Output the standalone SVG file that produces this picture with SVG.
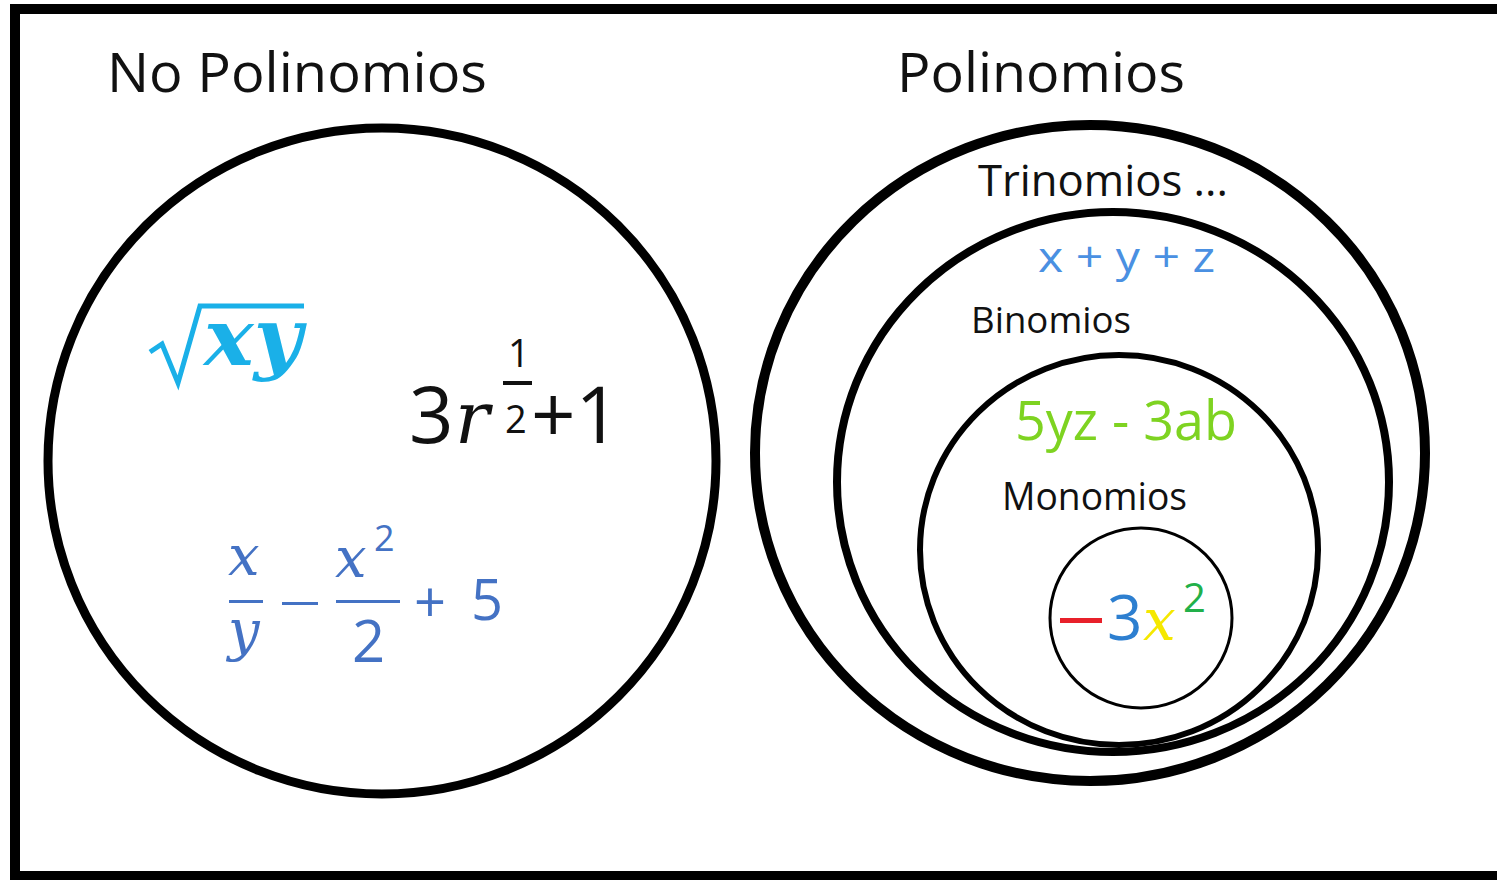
<svg xmlns="http://www.w3.org/2000/svg" width="1497" height="880" viewBox="0 0 1497 880">
<style>
.c{fill:none;stroke:#000}
.lbl{font-family:"Open Sans","Noto Sans",sans-serif;fill:#111}
.m{font-family:"DejaVu Serif","Liberation Serif",serif}
.s{font-family:"Open Sans","Noto Sans",sans-serif}
</style>
<rect width="1497" height="880" fill="#fff"/>
<g id="frame"><rect x="15" y="9" width="1500" height="867" class="c" stroke-width="10"/></g>
<g id="no-polinomios">
<text class="lbl" x="107" y="92" font-size="55" textLength="380" lengthAdjust="spacingAndGlyphs">No Polinomios</text>
<ellipse cx="382" cy="461" rx="334" ry="333" class="c" stroke-width="9"/>
<g id="sqrt" fill="#1ab0e8">
<path d="M150,352 L162,344 L178,383 L200,306 L304,306" fill="none" stroke="#1ab0e8" stroke-width="5" stroke-linejoin="miter"/>
<text class="m" x="204" y="365" font-size="78" font-weight="bold" font-style="italic" textLength="98" lengthAdjust="spacingAndGlyphs">xy</text>
</g>
<g id="expr3r" fill="#111">
<text class="s" x="409" y="443" font-size="78">3</text>
<text class="m" x="455" y="443" font-size="72" font-style="italic">r</text>
<text class="s" x="508" y="367" font-size="38">1</text>
<rect x="503" y="381" width="29" height="4"/>
<text class="s" x="505" y="433" font-size="38">2</text>
<text class="s" x="531" y="443" font-size="78">+1</text>
</g>
<g id="fracexpr" fill="#4472c4">
<text class="m" x="228" y="575" font-size="56" font-style="italic">x</text>
<rect x="229" y="600" width="34" height="3"/>
<text class="m" x="228" y="650" font-size="56" font-style="italic">y</text>
<rect x="282" y="602" width="36" height="3"/>
<text class="m" x="335" y="577" font-size="56" font-style="italic">x</text>
<text class="s" x="374" y="551" font-size="36">2</text>
<rect x="336" y="600" width="64" height="3"/>
<text class="s" x="352" y="662" font-size="58">2</text>
<text class="s" x="414" y="622" font-size="56">+</text>
<text class="s" x="471" y="620" font-size="56">5</text>
</g>
</g>
<g id="polinomios">
<text class="lbl" x="897" y="92" font-size="55" textLength="288" lengthAdjust="spacingAndGlyphs">Polinomios</text>
<ellipse cx="1090" cy="453" rx="335" ry="328" class="c" stroke-width="10"/>
</g>
<g id="trinomios">
<text class="lbl" x="978" y="196" font-size="43" textLength="250" lengthAdjust="spacingAndGlyphs">Trinomios ...</text>
<ellipse cx="1113" cy="482" rx="276" ry="270" class="c" stroke-width="8"/>
<text class="s" x="1038" y="272" font-size="42" fill="#4a90e2" textLength="177" lengthAdjust="spacingAndGlyphs">x + y + z</text>
</g>
<g id="binomios">
<text class="lbl" x="971" y="333" font-size="36" fill="#333" textLength="160" lengthAdjust="spacingAndGlyphs">Binomios</text>
<ellipse cx="1119" cy="550" rx="199" ry="195" class="c" stroke-width="6"/>
<text class="s" x="1015" y="440" font-size="54" fill="#7ed321" textLength="222" lengthAdjust="spacingAndGlyphs">5yz - 3ab</text>
</g>
<g id="monomios">
<text class="lbl" x="1002" y="510" font-size="38" fill="#222" textLength="185" lengthAdjust="spacingAndGlyphs">Monomios</text>
<ellipse cx="1141" cy="618" rx="91" ry="90" class="c" stroke-width="3"/>
<rect x="1060" y="618" width="42" height="5" fill="#e8202a"/>
<text class="s" x="1107" y="640" font-size="62" fill="#2d7fd0">3</text>
<text class="m" x="1143" y="640" font-size="58" font-style="italic" fill="#f5e800">x</text>
<text class="s" x="1183" y="612" font-size="40" fill="#22b04a">2</text>
</g>
</svg>
